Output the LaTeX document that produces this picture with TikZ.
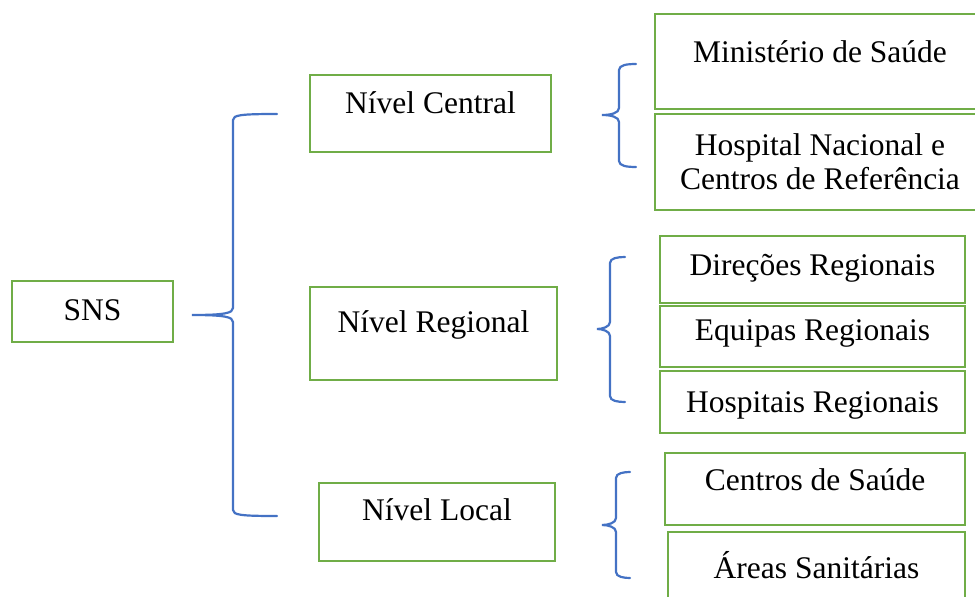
\documentclass[tikz,border=0pt]{standalone}
\usepackage{fontspec}
\setmainfont{Liberation Serif}
\definecolor{boxgreen}{HTML}{70AD47}
\definecolor{braceblue}{HTML}{4472C4}
\tikzset{
  box/.style={draw=boxgreen, line width=2.7pt, inner sep=0pt, align=center, anchor=base},
  brace/.style={draw=braceblue, line width=2.2pt, line cap=round},
}
% curly bracket: tip x, tip y, spine x, end x, top y, bottom y
\newcommand{\brc}[6]{%
  \draw[brace] (#4,#5) .. controls (#3+8,#5) and (#3,#5+1) .. (#3,#5+6)
    -- (#3,#2-7) .. controls (#3,#2-2) and (#3-8,#2) .. (#1,#2)
    .. controls (#3-8,#2) and (#3,#2+2) .. (#3,#2+7)
    -- (#3,#6-6) .. controls (#3,#6-1) and (#3+8,#6) .. (#4,#6);}
\begin{document}
\begin{tikzpicture}[x=1pt, y=-1pt, font=\fontsize{31.5}{34}\selectfont]
	\useasboundingbox (0,0) rectangle (975,597);

	\node[box, minimum width=161pt, text height=39pt, text depth=22pt] (sns) at (92.5,320) {SNS};

	\node[box, minimum width=241pt, text height=38pt, text depth=39pt] (central) at (430.5,113) {Nível Central};
	\node[box, minimum width=247pt, text height=45pt, text depth=48pt] (regional) at (433.5,332) {Nível Regional};
	\node[box, minimum width=236pt, text height=37pt, text depth=41pt] (local) at (437,520) {Nível Local};

	\node[box, minimum width=330pt, text height=48pt, text depth=47pt] (ministerio) at (820,62) {Ministério de Saúde};
	\node[box, anchor=center, minimum width=330pt, minimum height=96pt] (hospnac) at (820,162) {Hospital Nacional e\\Centros de Referência};

	\node[box, minimum width=305pt, text height=39pt, text depth=28pt] (direcoes) at (812.5,275) {Direções Regionais};
	\node[box, minimum width=305pt, text height=34pt, text depth=27pt] (equipas) at (812.5,340) {Equipas Regionais};
	\node[box, minimum width=305pt, text height=41pt, text depth=21pt] (hospreg) at (812.5,412) {Hospitais Regionais};

	\node[box, minimum width=300pt, text height=37pt, text depth=35pt] (centros) at (815,490) {Centros de Saúde};
	\node[box, minimum width=297pt, text height=46pt, text depth=32pt] (areas) at (816.5,578) {Áreas Sanitárias};

	\brc{192}{315}{233}{277}{114}{516}% SNS
	\brc{602}{115}{619}{636}{64}{167}% central
	\brc{597}{329}{610}{625}{257}{402}% regional
	\brc{602}{525}{616}{630}{472}{578}% local
\end{tikzpicture}
\end{document}
